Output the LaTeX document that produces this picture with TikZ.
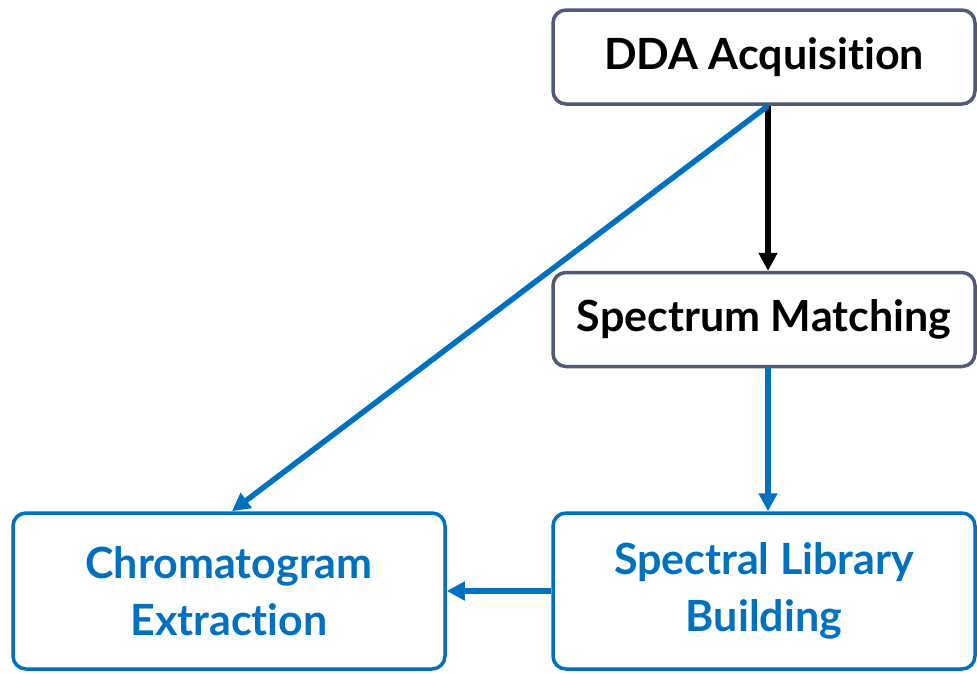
\documentclass[tikz,border=0pt]{standalone}
\usepackage{fontspec}
\setmainfont{Lato}[Ligatures=NoCommon]
\usetikzlibrary{arrows.meta}
\definecolor{boxblue}{HTML}{0070C0}
\definecolor{boxgray}{HTML}{505A78}
\tikzset{
  stagebox/.style={draw=boxgray, line width=3.5pt, rounded corners=13pt, fill=white,
    minimum width=422pt, minimum height=94pt, font=\fontsize{43}{50}\selectfont\bfseries,
    text=black, align=center, inner sep=0pt},
  bluebox/.style={stagebox, draw=boxblue, text=boxblue, minimum height=156pt,
    font=\fontsize{43}{57}\selectfont\bfseries},
  tip/.style={-{Triangle[length=18pt,width=18pt]}, line width=5.5pt},
  blueflow/.style={tip, draw=boxblue, fill=boxblue},
  blackflow/.style={tip, draw=black, fill=black}
}
\begin{document}
\begin{tikzpicture}[x=1pt,y=-1pt]
\useasboundingbox (0,0) rectangle (977,673);
\node[stagebox] (dda) at (764,57) {\raisebox{-3pt}{DDA Acquisition}};
\node[stagebox] (sm) at (764,319.5) {Spectrum Matching};
\node[bluebox, minimum width=432pt] (ce) at (229,591) {Chromatogram\\Extraction};
\node[bluebox] (slb) at (764,591) {Spectral Library\\Building};
\draw[blackflow] ([xshift=4pt]dda.south) -- ([xshift=4pt]sm.north);
\draw[blueflow] ([xshift=4pt]sm.south) -- ([xshift=4pt]slb.north);
\draw[blueflow] (slb.west) -- (ce.east);
\draw[blueflow] ([xshift=4pt]dda.south) -- ([xshift=3pt]ce.north);
\end{tikzpicture}
\end{document}
